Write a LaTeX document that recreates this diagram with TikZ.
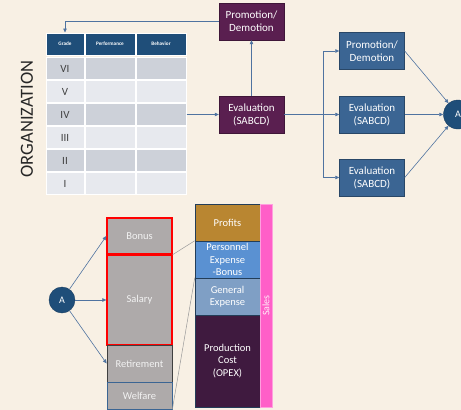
\documentclass[tikz,border=0pt]{standalone}
\usepackage{fontspec}
\setmainfont{Carlito}
\setsansfont{Carlito}
\usetikzlibrary{arrows.meta, positioning}

\definecolor{cream}{HTML}{F8F0E4}
\definecolor{plum}{HTML}{5A1F50}
\definecolor{steel}{HTML}{3B6593}
\definecolor{navy}{HTML}{1F4E79}
\definecolor{rowdark}{HTML}{CDD1D9}
\definecolor{rowlight}{HTML}{E7E9EE}
\definecolor{wire}{HTML}{4F73A0}
\definecolor{stone}{HTML}{AEAAAA}
\definecolor{ochre}{HTML}{B98631}
\definecolor{sky}{HTML}{5A91D2}
\definecolor{haze}{HTML}{7F9FC5}
\definecolor{aubergine}{HTML}{3F1A3F}
\definecolor{pinkbar}{HTML}{FF5FC8}

\tikzset{
  box/.style={rectangle, inner sep=1pt, text=white, align=center, font=\fontsize{11}{13}\selectfont,
    minimum width=65pt},
  plumbox/.style={box, fill=plum, draw=plum!70!black, minimum height=37pt},
  steelbox/.style={box, fill=steel, draw=steel!70!black, minimum height=37pt},
  hdr/.style={rectangle, fill=navy, draw=white, line width=1pt, text=white,
    font=\fontsize{5.2}{6}\selectfont\bfseries, minimum height=22pt},
  cell/.style={rectangle, draw=white, line width=1pt, text=black!75,
    font=\fontsize{11}{12}\selectfont, minimum height=22pt},
  link/.style={draw=wire, line width=0.6pt, -{Triangle[length=4pt,width=3.5pt]}},
  bubble/.style={circle, fill=navy, draw=navy!80!black, text=white, font=\fontsize{10}{11}\selectfont},
  slab/.style={rectangle, fill=stone, text=white!95!black, align=center,
    font=\fontsize{10.5}{12}\selectfont, minimum width=65pt, inner sep=0pt},
  layer/.style={rectangle, text=white, align=center, draw=steel!60!black, line width=0.5pt,
    font=\fontsize{10.5}{12.5}\selectfont, minimum width=65pt, inner sep=0pt},
  tie/.style={draw=gray!80, line width=0.5pt}
}

\begin{document}
\begin{tikzpicture}[x=1pt, y=-1pt]
  \fill[cream] (0,0) rectangle (461,410);
  \useasboundingbox (0,0) rectangle (461,410);

  % grade table
  \node[hdr, minimum width=38pt] (hgrade) at (65,44) {Grade};
  \node[hdr, minimum width=50pt] (hperf) at (110,44) {Performance};
  \node[hdr, minimum width=50pt] (hbeh) at (161,44) {Behavior};
  \foreach \lab [count=\i] in {VI,V,IV,III,II,I}{
    \pgfmathsetmacro{\yy}{57+23*\i-11.5}
    \ifodd\i \def\shade{rowdark}\else\def\shade{rowlight}\fi
    \node[cell, fill=\shade, minimum width=38pt] (g\i) at (65,\yy) {\lab};
    \node[cell, fill=\shade, minimum width=50pt] (p\i) at (110,\yy) {};
    \node[cell, fill=\shade, minimum width=50pt] (b\i) at (161,\yy) {};
  }
  \node[rotate=90, font=\fontsize{18.5}{19}\selectfont\sffamily, text=black!85] (org) at (27,119) {ORGANIZATION};

  % evaluation flow
  \node[plumbox] (promo) at (251.5,21.5) {Promotion/\\Demotion};
  \node[plumbox] (eval) at (251.5,114.5) {Evaluation\\(SABCD)};
  \node[steelbox] (promoB) at (372,51) {Promotion/\\Demotion};
  \node[steelbox] (evalB) at (372,114.5) {Evaluation\\(SABCD)};
  \node[steelbox] (evalC) at (372,177.5) {Evaluation\\(SABCD)};
  \node[bubble, minimum size=29pt] (aR) at (458,114.5) {A};
  \coordinate (fork) at (323,114.5);

  \draw[link] (b3.east) -- (eval.west);
  \draw[link] (eval.north) -- (promo.south);
  \draw[link] (promo.west) -| (hgrade.north);
  \draw[wire, line width=0.6pt] (eval.east) -- (fork);
  \draw[link] (fork) |- (promoB.west);
  \draw[link] (fork) -- (evalB.west);
  \draw[link] (fork) |- (evalC.west);
  \draw[link] (promoB.east) -- (aR);
  \draw[link] (evalB.east) -- (aR);
  \draw[link] (evalC.east) -- (aR);

  % pay breakdown
  \node[bubble, minimum size=26pt] (aL) at (62,300) {A};
  \node[slab, minimum height=36pt, draw=red, line width=1.3pt] (bonus) at (139.5,236) {Bonus};
  \node[slab, minimum height=90pt, draw=red, line width=1.3pt] (salary) at (139.5,300) {Salary};
  \node[slab, minimum height=37pt, draw=black!75, line width=0.7pt] (retire) at (139.5,363.5) {Retirement};
  \node[slab, minimum height=27pt, draw=steel, line width=0.7pt] (welfare) at (139.5,395.5) {Welfare};

  \draw[link] (aL) -- (bonus.west);
  \draw[link] (aL) -- (salary.west);
  \draw[link] (aL) -- (retire.west);

  % sales stack
  \node[layer, fill=ochre, minimum height=37pt] (profits) at (227.5,222.5) {Profits};
  \node[layer, fill=sky, minimum height=37pt] (personnel) at (227.5,259.5) {Personnel\\Expense\\-Bonus};
  \node[layer, fill=haze, minimum height=37pt] (general) at (227.5,296.5) {General\\Expense};
  \node[layer, fill=aubergine, minimum height=92pt] (production) at (227.5,361) {Production\\Cost\\(OPEX)};
  \node[rectangle, fill=pinkbar, draw=pinkbar!60!white, minimum width=12pt, minimum height=203pt, inner sep=0pt] (sales) at (266,305.5) {};
  \node[rotate=90, text=white!90!pinkbar, font=\fontsize{10}{11}\selectfont] (saleslab) at (sales.center) {Sales};

  \draw[tie] (bonus.south east) -- (personnel.north west);
  \draw[tie] (welfare.south east) -- (general.north west);
\end{tikzpicture}
\end{document}
